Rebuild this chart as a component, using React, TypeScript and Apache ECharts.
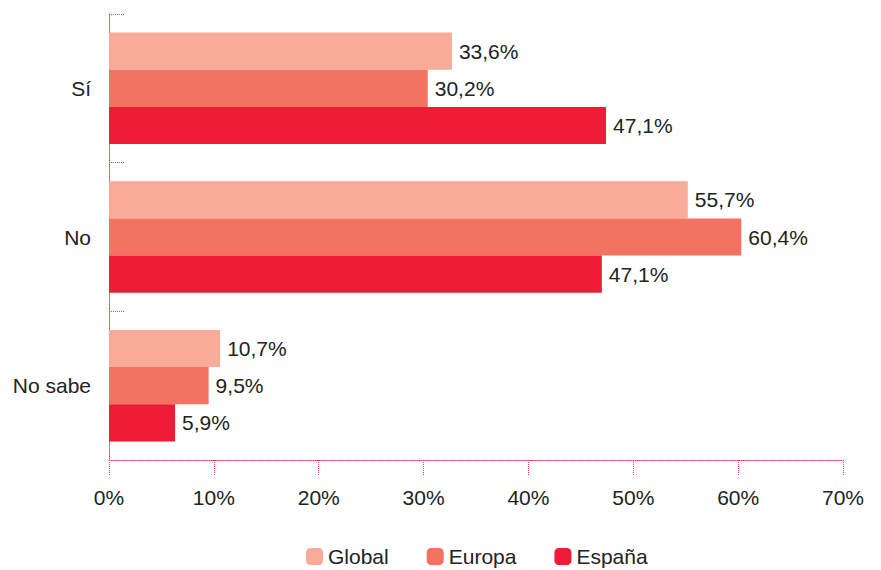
import React, { useEffect, useRef } from "react";
import * as echarts from "echarts";

const categories = ["Sí", "No", "No sabe"];
const seriesNames = ["Global", "Europa", "España"];
// bar lengths as drawn in the picture
const globalValues = [32.7, 55.2, 10.6];
const europaValues = [30.4, 60.3, 9.5];
const espanaValues = [47.4, 47.0, 6.3];
// printed value labels
const globalLabels = ["33,6%", "55,7%", "10,7%"];
const europaLabels = ["30,2%", "60,4%", "9,5%"];
const espanaLabels = ["47,1%", "47,1%", "5,9%"];
const colors = ["#F7AB98", "#F37362", "#EE1C37"];
const xTicks = [0, 10, 20, 30, 40, 50, 60, 70];

const FONT = "'Liberation Sans', Arial, Helvetica, sans-serif";
const AXIS_COLOR = "#EE3B52";
const FS = 21;

export default function App() {
  const ref = useRef<HTMLDivElement>(null);
  useEffect(() => {
    if (!ref.current) return;
    const chart = echarts.init(ref.current, null, { renderer: "svg" });
    const data = [globalValues, europaValues, espanaValues];
    const labels = [globalLabels, europaLabels, espanaLabels];
    chart.setOption({
      animation: false,
      textStyle: { fontFamily: FONT },
      grid: { left: 109, right: 38, top: 14, bottom: 110, containLabel: false },
      legend: {
        top: 541,
        left: 301,
        icon: "roundRect",
        itemWidth: 17,
        itemHeight: 17,
        itemGap: 38,
        textStyle: { fontSize: FS, color: "#222", fontFamily: FONT },
        data: seriesNames,
      },
      xAxis: {
        type: "value",
        min: xTicks[0],
        max: xTicks[xTicks.length - 1],
        interval: 10,
        axisLine: { show: true, lineStyle: { color: AXIS_COLOR, type: "dotted", width: 1 } },
        axisTick: { show: true, length: 16, lineStyle: { color: AXIS_COLOR, type: "dotted", width: 1 } },
        splitLine: { show: false },
        axisLabel: {
          margin: 27,
          fontSize: FS,
          color: "#222",
          fontFamily: FONT,
          formatter: (v: number) => `${v}%`,
        },
      },
      yAxis: {
        type: "category",
        inverse: true,
        data: categories,
        axisLine: { show: true, lineStyle: { color: AXIS_COLOR, type: "dotted", width: 1 } },
        axisTick: { show: true, inside: true, length: 15, lineStyle: { color: AXIS_COLOR, type: "dotted", width: 1 } },
        axisLabel: { margin: 18, fontSize: FS, color: "#222", fontFamily: FONT },
      },
      series: seriesNames.map((name, i) => ({
        name,
        type: "bar",
        data: data[i],
        barGap: "0%",
        barCategoryGap: "25%",
        itemStyle: { color: colors[i] },
        label: {
          show: true,
          position: "right",
          distance: 7,
          fontSize: FS,
          color: "#222",
          fontFamily: FONT,
          formatter: (p: any) => labels[i][p.dataIndex],
        },
      })),
    });
    return () => chart.dispose();
  }, []);
  return <div ref={ref} style={{ width: 881, height: 570, position: "absolute", left: 0, top: 0 }} />;
}
